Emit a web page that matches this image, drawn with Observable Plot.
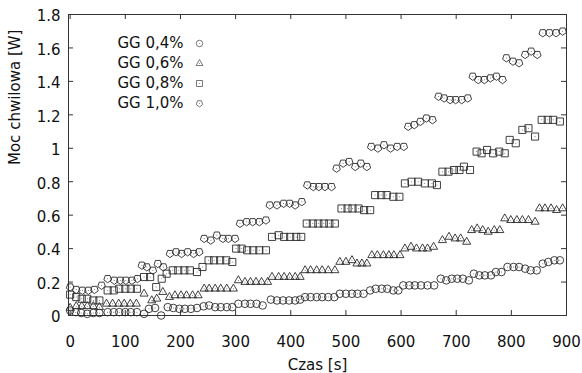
<!DOCTYPE html>
<html>
<head>
<meta charset="utf-8">
<script src="https://cdn.jsdelivr.net/npm/d3@7"></script>
<script src="https://cdn.jsdelivr.net/npm/@observablehq/plot@0.6"></script>
<style>
  html, body { margin: 0; padding: 0; background: #fff; }
  #chart svg { display: block; }
</style>
</head>
<body>
<div id="chart"></div>
<script>
// ---- data (time [s], instantaneous power [W]) ----
const seriesNames = ["GG 0,4%", "GG 0,6%", "GG 0,8%", "GG 1,0%"];

const t04 = [0,10,20,31,42,53, 68,79,89,100,110,121, 134,143,154,165, 177,187,198,208,219,230,
  242,252,263,273,284,294, 305,317,327,338,349, 364,375,386,397,408,417, 426,436,447,457,468,479,
  489,500,511,521,532, 544,554,565,575,586,595, 604,615,625,636,648,660, 672,682,692,702,712,723,
  732,742,752,763,772,782, 793,804,814,825,835,846, 857,867,878,888];
const v04 = [0.03,0.02,0.015,0.01,0.015,0.015, 0.02,0.02,0.02,0.02,0.02,0.02, 0.01,0.04,0.045,0.0,
  0.05,0.045,0.04,0.04,0.04,0.045, 0.055,0.06,0.05,0.05,0.05,0.05, 0.07,0.07,0.07,0.07,0.06,
  0.095,0.09,0.09,0.09,0.09,0.095, 0.11,0.11,0.11,0.11,0.11,0.11, 0.13,0.13,0.13,0.13,0.13,
  0.15,0.16,0.16,0.16,0.15,0.15, 0.18,0.18,0.18,0.18,0.18,0.18, 0.22,0.21,0.22,0.22,0.22,0.21,
  0.25,0.24,0.24,0.24,0.26,0.26, 0.29,0.29,0.29,0.28,0.27,0.27, 0.31,0.32,0.33,0.33];

const t06 = [0,11,21,31,42,53, 66,77,88,98,109,120, 134,148,157,168, 180,190,201,211,222,232,
  243,252,263,273,284,296, 305,317,327,337,347,358, 366,378,388,398,408,417, 426,436,447,457,468,480,
  489,500,511,520,529,538, 547,557,568,578,587,598, 607,618,628,639,648,659, 675,687,698,708,719,
  728,738,748,758,769,779, 788,799,810,820,831,843, 851,861,872,882,893];
const v06 = [0.045,0.055,0.055,0.055,0.055,0.05, 0.07,0.07,0.07,0.07,0.07,0.07, 0.13,0.09,0.10,0.14,
  0.11,0.12,0.12,0.12,0.12,0.12, 0.16,0.16,0.16,0.16,0.16,0.16, 0.21,0.20,0.20,0.20,0.20,0.20,
  0.23,0.23,0.23,0.23,0.23,0.23, 0.27,0.27,0.27,0.27,0.27,0.27, 0.32,0.32,0.33,0.31,0.31,0.31,
  0.36,0.36,0.36,0.36,0.36,0.36, 0.40,0.41,0.40,0.40,0.40,0.41, 0.45,0.47,0.46,0.46,0.44,
  0.51,0.52,0.51,0.50,0.51,0.51, 0.58,0.57,0.57,0.57,0.57,0.56, 0.64,0.64,0.64,0.63,0.64];

const t08 = [0,11,21,31,42,53, 68,79,89,100,110,121, 134,145,156,166, 175,186,196,207,217,230,
  240,251,261,272,283,294, 301,311,321,332,343,355, 366,378,388,399,410,419, 429,440,450,460,470,480,
  492,503,512,523,533,544, 553,564,574,586,597, 607,619,631,643,656,665, 675,686,696,706,714,725,
  737,746,756,767,778,788, 797,808, 820,831,843, 855,866,876,888];
const v08 = [0.125,0.11,0.10,0.10,0.09,0.09, 0.15,0.15,0.16,0.16,0.16,0.16, 0.23,0.23,0.17,0.22,
  0.25,0.27,0.27,0.27,0.27,0.26, 0.29,0.33,0.33,0.33,0.33,0.32, 0.40,0.40,0.39,0.39,0.39,0.39,
  0.47,0.48,0.47,0.47,0.47,0.47, 0.55,0.55,0.55,0.55,0.55,0.55, 0.64,0.64,0.64,0.64,0.63,0.63,
  0.72,0.72,0.72,0.71,0.71, 0.79,0.80,0.80,0.79,0.79,0.78, 0.86,0.86,0.87,0.87,0.89,0.87,
  0.98,0.97,0.99,0.97,0.98,0.97, 1.05,1.03, 1.11,1.12,1.07, 1.17,1.17,1.17,1.16];

const t10 = [0,11,22,33,44,57, 68,80,91,101,112,122, 130,139,150,159,169, 181,192,202,213,224,234,
  243,255,266,277,287,299, 308,320,331,343,355, 362,375,387,398,408,420, 430,441,451,462,474,
  483,495,506,517,527,538, 546,558,569,581,593,605, 613,624,635,646,657, 668,678,689,699,710,721,
  730,740,751,762,773,784, 791,803,814,825,836,847, 857,869,881,893];
const v10 = [0.17,0.155,0.15,0.15,0.155,0.18, 0.22,0.21,0.21,0.21,0.21,0.22, 0.30,0.29,0.27,0.31,0.29,
  0.37,0.38,0.37,0.38,0.37,0.38, 0.46,0.45,0.48,0.46,0.46,0.46, 0.55,0.56,0.56,0.56,0.57,
  0.66,0.66,0.67,0.67,0.66,0.68, 0.78,0.77,0.77,0.77,0.77, 0.88,0.91,0.92,0.89,0.91,0.89,
  1.01,1.00,1.02,1.00,1.01,1.01, 1.13,1.14,1.16,1.18,1.17, 1.31,1.30,1.29,1.29,1.29,1.30,
  1.43,1.41,1.41,1.42,1.43,1.41, 1.54,1.52,1.51,1.56,1.58,1.56, 1.69,1.69,1.69,1.70];

const xTicks = [0,100,200,300,400,500,600,700,800,900];
const xTickLabels = ["0","100","200","300","400","500","600","700","800","900"];
const yTicks = [0,0.2,0.4,0.6,0.8,1,1.2,1.4,1.6,1.8];
const yTickLabels = ["0","0.2","0.4","0.6","0.8","1","1.2","1.4","1.6","1.8"];
const xTitle = "Czas [s]";
const yTitle = "Moc chwilowa [W]";

// ---- build tables ----
const rows = (ts, vs, s) => ts.map((t, i) => ({t, v: vs[i], s}));
const d04 = rows(t04, v04, seriesNames[0]);
const d06 = rows(t06, v06, seriesNames[1]);
const d08 = rows(t08, v08, seriesNames[2]);
const d10 = rows(t10, v10, seriesNames[3]);
const all = [...d04, ...d06, ...d08, ...d10];

// pentagon symbol (point down)
const pentagon = {
  draw(ctx, size) {
    const R = Math.sqrt(size / Math.PI);
    for (let k = 0; k < 5; k++) {
      const a = Math.PI / 2 + k * 2 * Math.PI / 5;
      const x = R * Math.cos(a), y = R * Math.sin(a);
      if (k === 0) ctx.moveTo(x, y); else ctx.lineTo(x, y);
    }
    ctx.closePath();
  }
};

const stroke = "#2a2a2a";
const sw = 0.9;
const W = 582, H = 373, mL = 68, mR = 16, mT = 14, mB = 58;
const frameW = W - mL - mR, frameH = H - mT - mB;
const tick = 5;
const font = "DejaVu Sans, sans-serif";

const symbolSpecs = [
  {data: d04, symbol: "circle", r: 3.8},
  {data: d06, symbol: "triangle", r: 3.0},
  {data: d08, symbol: "square", r: 4.0},
  {data: d10, symbol: pentagon, r: 4.0}
];

const legendMarks = [];
seriesNames.forEach((name, i) => {
  legendMarks.push(Plot.text([name], {text: d => d, frameAnchor: "top-left", dx: 115, dy: 29 + 20 * i,
    textAnchor: "end", lineAnchor: "middle", fontSize: 15, fill: "#111"}));
  legendMarks.push(Plot.dot([name], {frameAnchor: "top-left", dx: 131, dy: 29 + 20 * i,
    symbol: symbolSpecs[i].symbol, r: symbolSpecs[i].r * 0.85, stroke: "#555", strokeWidth: 0.8, fill: "none"}));
  legendMarks.push(Plot.dot([name], {frameAnchor: "top-left", dx: 131, dy: 29 + 20 * i,
    r: 0.5, fill: "#777", stroke: "none"}));
});

const yLab = new Map(yTicks.map((d, i) => [d, yTickLabels[i]]));
const xLab = new Map(xTicks.map((d, i) => [d, xTickLabels[i]]));

const chart = Plot.plot({
  width: W, height: H,
  marginLeft: mL, marginRight: mR, marginTop: mT, marginBottom: mB,
  style: {fontFamily: font, background: "#fff", color: "#111"},
  x: {domain: [-3, 900]},
  y: {domain: [0, 1.8]},
  marks: [
    Plot.frame({stroke: "#333", strokeWidth: 1}),
    // inward ticks on all four sides
    Plot.tickX(xTicks.slice(0, -1), {x: d => d, insetTop: frameH - tick, stroke: "#333"}),
    Plot.tickX(xTicks.slice(0, -1), {x: d => d, insetBottom: frameH - tick, stroke: "#333"}),
    Plot.tickY(yTicks.slice(1, -1), {y: d => d, insetRight: frameW - tick, stroke: "#333"}),
    Plot.tickY(yTicks.slice(1, -1), {y: d => d, insetLeft: frameW - tick, stroke: "#333"}),
    Plot.axisX(xTicks, {tickSize: 0, tickPadding: 21, fontSize: 15, fill: "#111", label: null,
      tickFormat: d => xLab.get(d)}),
    Plot.axisY(yTicks, {tickSize: 0, tickPadding: 8, fontSize: 15, fill: "#111", dy: 2, label: null,
      tickFormat: d => yLab.get(d)}),
    Plot.text([xTitle], {text: d => d, frameAnchor: "bottom", dy: 50, lineAnchor: "middle", fontSize: 15, fill: "#111"}),
    Plot.text([yTitle], {text: d => d, frameAnchor: "left", dx: -53, rotate: -90, lineAnchor: "middle", fontSize: 15, fill: "#111"}),
    ...symbolSpecs.map(sp => Plot.dot(sp.data, {x: "t", y: "v", symbol: sp.symbol, r: sp.r,
      stroke, strokeWidth: sw, fill: "none"})),
    Plot.dot(all, {x: "t", y: "v", r: 0.5, fill: "#666", stroke: "none"}),
    ...legendMarks
  ]
});
document.getElementById("chart").appendChild(chart);
</script>
</body>
</html>
